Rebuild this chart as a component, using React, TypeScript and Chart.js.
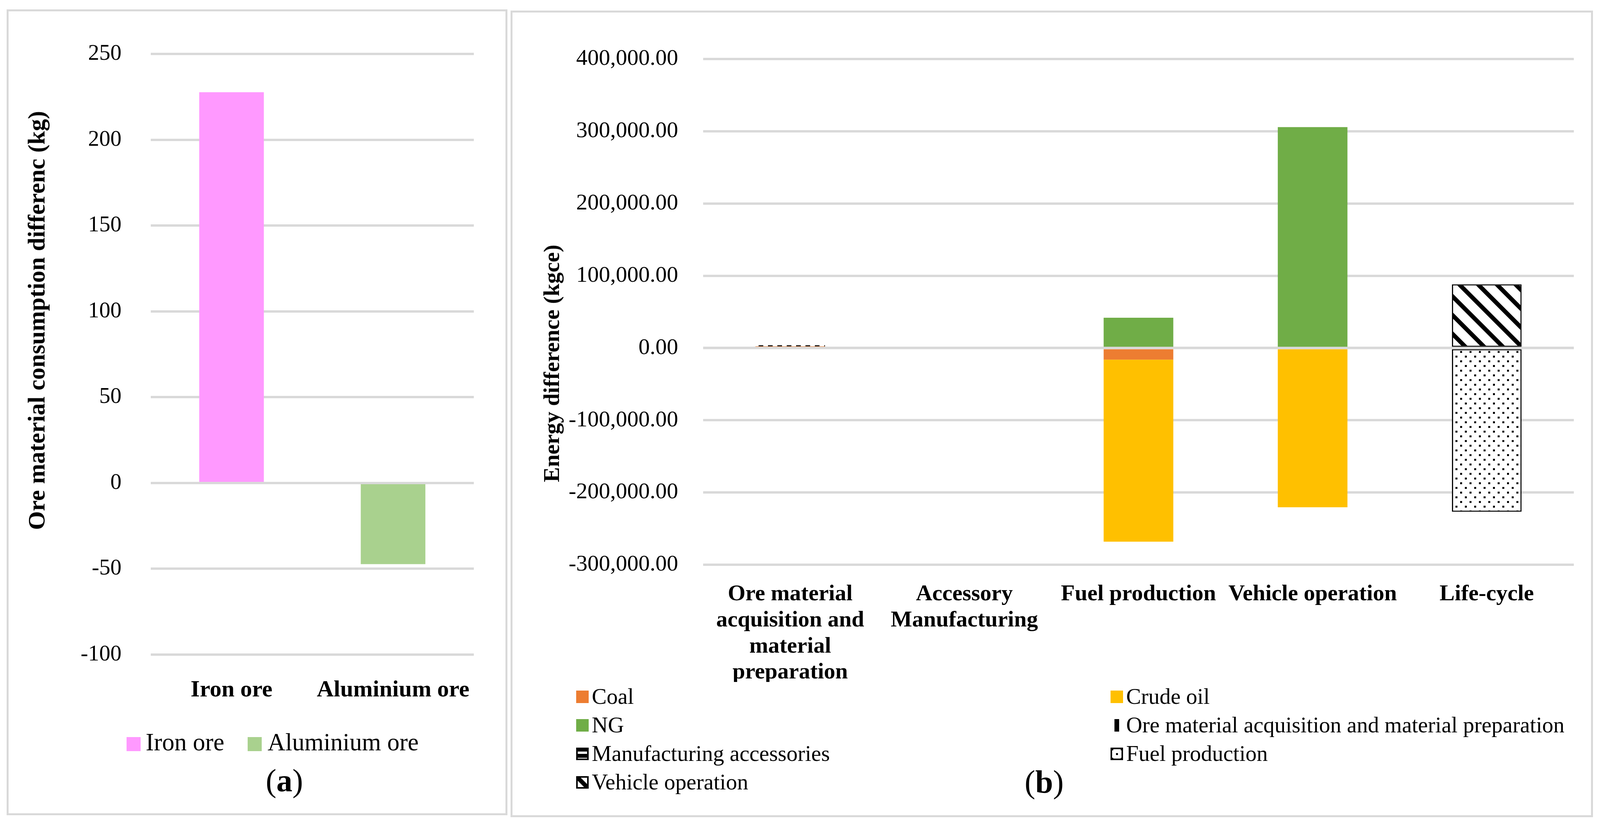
import React, { useEffect, useRef } from "react";
import { Chart, registerables } from "chart.js";

Chart.register(...registerables);

const FONT = "'Times New Roman', 'Liberation Serif', serif";

// ---------------- Panel (a) data ----------------
const oreCategories = ["Iron ore", "Aluminium ore"];
const ironOreValues = [227.7, null];
const aluminiumOreValues = [null, -47.3];
const oreColors = ["#FF99FF", "#A9D18E"];
const oreAxisMin = -100;
const oreAxisMax = 250;
const oreAxisStep = 50;
const oreAxisTitle = "Ore material consumption differenc (kg)";

// ---------------- Panel (b) data ----------------
const stageCategories = [
  ["Ore material", "acquisition and", "material", "preparation"],
  ["Accessory", "Manufacturing"],
  "Fuel production",
  "Vehicle operation",
  "Life-cycle",
];
const coalValues = [2200, null, -16100, null, null];
const crudeOilValues = [null, null, -252000, -220500, null];
const ngValues = [null, null, 41900, 305800, null];
const orePrepValues = [1600, null, null, null, null];
const manufacturingValues = [null, null, null, null, null];
const fuelProductionValues = [null, null, null, null, -226700];
const vehicleOperationValues = [null, null, null, null, 88100];
const energyAxisMin = -300000;
const energyAxisMax = 400000;
const energyAxisStep = 100000;
const energyAxisTitle = "Energy difference (kgce)";

const stageLabels = [
  "Coal",
  "Crude oil",
  "NG",
  "Ore material acquisition and material preparation",
  "Manufacturing accessories",
  "Fuel production",
  "Vehicle operation",
];
const stageData = [
  coalValues,
  crudeOilValues,
  ngValues,
  orePrepValues,
  manufacturingValues,
  fuelProductionValues,
  vehicleOperationValues,
];

// ---------------- layout scaling (design width 4321) ----------------
const DESIGN_W = 4321;
function getSx() {
  const w = typeof window !== "undefined" ? window.innerWidth : DESIGN_W;
  return Math.min(1, w / DESIGN_W);
}

// ---------------- patterns ----------------
type TileKind = "vstripe" | "hstripe" | "dots" | "diag";

function makeTile(kind: TileKind): HTMLCanvasElement {
  const c = document.createElement("canvas");
  let w = 24, h = 24;
  if (kind === "hstripe") { w = 16; h = 16; }
  if (kind === "diag") { w = 48; h = 48; }
  c.width = w; c.height = h;
  const ctx = c.getContext("2d")!;
  ctx.fillStyle = "#ffffff";
  ctx.fillRect(0, 0, w, h);
  ctx.fillStyle = "#000000";
  ctx.strokeStyle = "#000000";
  if (kind === "vstripe") ctx.fillRect(6, 0, 12, h);
  if (kind === "hstripe") ctx.fillRect(0, 0, w, 10);
  if (kind === "dots") {
    ctx.fillRect(2, 2, 5, 5);
    ctx.fillRect(14, 14, 5, 5);
  }
  if (kind === "diag") {
    ctx.lineWidth = 11;
    for (let k = -1; k <= 1; k++) {
      ctx.beginPath();
      ctx.moveTo(k * w - 10, -10);
      ctx.lineTo(k * w + w + 10, h + 10);
      ctx.stroke();
    }
  }
  return c;
}

type SeriesStyle = { color?: string; tile?: TileKind; border: number; swatchShift?: number };

const stageStyles: SeriesStyle[] = [
  { color: "#ED7D31", border: 0 },
  { color: "#FFC000", border: 0 },
  { color: "#70AD47", border: 0 },
  { tile: "vstripe", border: 0, swatchShift: 4 },
  { tile: "hstripe", border: 3 },
  { tile: "dots", border: 3 },
  { tile: "diag", border: 3 },
];

const zeroLinePlugin = {
  id: "zeroLine",
  afterDatasetsDraw(chart: any) {
    const y = chart.scales.y.getPixelForValue(0);
    const { left, right } = chart.chartArea;
    const ctx = chart.ctx;
    ctx.save();
    ctx.strokeStyle = "#d9d9d9";
    ctx.lineWidth = 6;
    ctx.beginPath();
    ctx.moveTo(left, y);
    ctx.lineTo(right, y);
    ctx.stroke();
    ctx.restore();
  },
};

// ---------------- helpers ----------------
function Txt(props: {
  x: number; baseline: number; size: number; bold?: boolean; center?: boolean; children: any;
}) {
  const { x, baseline, size, bold, center, children } = props;
  return (
    <div
      style={{
        position: "absolute",
        left: x,
        top: baseline - 0.8375 * size,
        fontFamily: FONT,
        fontSize: size,
        lineHeight: `${size}px`,
        fontWeight: bold ? "bold" : "normal",
        whiteSpace: "nowrap",
        color: "#000",
        transform: center ? "translateX(-50%)" : undefined,
      }}
    >
      {children}
    </div>
  );
}

function VTitle(props: { cx: number; cy: number; size: number; text: string }) {
  const { cx, cy, size, text } = props;
  return (
    <div
      style={{
        position: "absolute",
        left: cx,
        top: cy,
        fontFamily: FONT,
        fontSize: size,
        lineHeight: `${size}px`,
        fontWeight: "bold",
        whiteSpace: "nowrap",
        color: "#000",
        transform: "translate(-50%, -50%) rotate(-90deg)",
      }}
    >
      {text}
    </div>
  );
}

function Swatch(props: { style: SeriesStyle; left: number; top: number; size: number }) {
  const ref = useRef<HTMLCanvasElement>(null);
  const { style, left, top, size } = props;
  useEffect(() => {
    const c = ref.current!;
    const ctx = c.getContext("2d")!;
    ctx.clearRect(0, 0, size, size);
    if (style.tile) {
      const pat = ctx.createPattern(makeTile(style.tile), "repeat")!;
      if (style.swatchShift) pat.setTransform(new DOMMatrix().translate(style.swatchShift, 0));
      ctx.fillStyle = pat;
    } else {
      ctx.fillStyle = style.color!;
    }
    ctx.fillRect(0, 0, size, size);
    if (style.border > 0) {
      const b = 4;
      ctx.strokeStyle = "#000";
      ctx.lineWidth = b;
      ctx.strokeRect(b / 2, b / 2, size - b, size - b);
    }
  }, [style, size]);
  return (
    <canvas
      ref={ref}
      width={size}
      height={size}
      style={{ position: "absolute", left, top, width: size, height: size }}
    />
  );
}

// ---------------- Panel (a) chart ----------------
function OreChart(props: { sx: number }) {
  const { sx } = props;
  const ref = useRef<HTMLCanvasElement>(null);
  const w = Math.round(1342 * sx);
  useEffect(() => {
    const chart = new Chart(ref.current!, {
      type: "bar",
      data: {
        labels: oreCategories,
        datasets: [
          { label: oreCategories[0], data: ironOreValues as any, backgroundColor: oreColors[0], barPercentage: 0.4, categoryPercentage: 1 },
          { label: oreCategories[1], data: aluminiumOreValues as any, backgroundColor: oreColors[1], barPercentage: 0.4, categoryPercentage: 1 },
        ],
      },
      options: {
        animation: false,
        responsive: false,
        devicePixelRatio: 1,
        layout: { padding: { left: 0, top: 106, right: Math.round(85 * sx), bottom: 0 } },
        plugins: { legend: { display: false }, tooltip: { enabled: false } },
        scales: {
          x: {
            stacked: true,
            grid: { display: false },
            border: { display: false },
            ticks: {
              color: "#000",
              padding: 47,
              maxRotation: 0,
              autoSkip: false,
              font: { family: FONT, size: 60, weight: "bold", lineHeight: 1.2 },
            },
            afterFit: (s: any) => { s.height = 134; },
          },
          y: {
            stacked: true,
            min: oreAxisMin,
            max: oreAxisMax,
            ticks: { stepSize: oreAxisStep, color: "#000", padding: Math.round(79 * sx), font: { family: FONT, size: 57 } },
            grid: { color: "#d9d9d9", lineWidth: 6, drawTicks: false },
            border: { display: false },
            afterFit: (s: any) => { s.width = Math.round(384 * sx); },
          },
        },
      } as any,
      plugins: [zeroLinePlugin],
    });
    return () => chart.destroy();
  }, [sx]);
  return (
    <canvas
      ref={ref}
      width={w}
      height={1780}
      style={{ position: "absolute", left: Math.round(23 * sx), top: 29, width: w, height: 1780 }}
    />
  );
}

// ---------------- Panel (b) chart ----------------
function EnergyChart(props: { sx: number }) {
  const { sx } = props;
  const ref = useRef<HTMLCanvasElement>(null);
  const w = Math.round(2913 * sx);
  useEffect(() => {
    const canvas = ref.current!;
    const ctx = canvas.getContext("2d")!;
    const datasets = stageLabels.map((label, i) => {
      const st = stageStyles[i];
      const bg: any = st.tile ? ctx.createPattern(makeTile(st.tile), "repeat") : st.color;
      return {
        label,
        data: stageData[i] as any,
        backgroundColor: bg,
        borderColor: "#000000",
        borderWidth: st.border,
        borderSkipped: false,
        barPercentage: 0.4,
        categoryPercentage: 1,
      };
    });
    const chart = new Chart(canvas, {
      type: "bar",
      data: { labels: stageCategories as any, datasets },
      options: {
        animation: false,
        responsive: false,
        devicePixelRatio: 1,
        layout: { padding: { left: 0, top: 119, right: Math.round(46 * sx), bottom: 0 } },
        plugins: { legend: { display: false }, tooltip: { enabled: false } },
        scales: {
          x: {
            stacked: true,
            grid: { display: false },
            border: { display: false },
            ticks: {
              color: "#000",
              padding: 35,
              maxRotation: 0,
              autoSkip: false,
              font: { family: FONT, size: 58, weight: "bold", lineHeight: 1.15 },
            },
            afterFit: (s: any) => { s.height = 300; },
          },
          y: {
            stacked: true,
            min: energyAxisMin,
            max: energyAxisMax,
            ticks: {
              stepSize: energyAxisStep,
              color: "#000",
              padding: Math.round(67 * sx),
              font: { family: FONT, size: 58 },
              callback: (v: any) =>
                Number(v).toLocaleString("en-US", { minimumFractionDigits: 2, maximumFractionDigits: 2 }),
            },
            grid: { color: "#d9d9d9", lineWidth: 6, drawTicks: false },
            border: { display: false },
            afterFit: (s: any) => { s.width = Math.round(515 * sx); },
          },
        },
      } as any,
      plugins: [zeroLinePlugin],
    });
    return () => chart.destroy();
  }, [sx]);
  return (
    <canvas
      ref={ref}
      width={w}
      height={1713}
      style={{ position: "absolute", left: Math.round(1384 * sx), top: 32, width: w, height: 1713 }}
    />
  );
}

const panelBorder = "5px solid #d9d9d9";

export default function App() {
  const sx = getSx();
  const X = (v: number) => Math.round(v * sx);
  const oreLegendX = [342, 669];
  const oreLegendTextGap = [51, 54];
  const stageLegendCols = [1556, 2999];
  const stageLegendBaselines = [1801, 1874, 1947, 2020];
  return (
    <div
      style={{
        position: "absolute",
        left: 0,
        top: 0,
        width: X(DESIGN_W),
        height: 2111,
        background: "#ffffff",
        overflow: "hidden",
      }}
    >
      {/* Panel (a) */}
      <div
        style={{
          position: "absolute", left: X(18), top: 24, width: X(1370) - X(18), height: 2062,
          border: panelBorder, boxSizing: "border-box",
        }}
      />
      <OreChart sx={sx} />
      <VTitle cx={X(98)} cy={820} size={62} text={oreAxisTitle} />
      {oreCategories.map((name, i) => (
        <React.Fragment key={name}>
          <Swatch style={{ color: oreColors[i], border: 0 }} left={X(oreLegendX[i])} top={1886} size={36} />
          <Txt x={X(oreLegendX[i] + oreLegendTextGap[i])} baseline={1921} size={63}>{name}</Txt>
        </React.Fragment>
      ))}
      <Txt x={X(768)} baseline={2026} size={82} center>
        (<b>a</b>)
      </Txt>

      {/* Panel (b) */}
      <div
        style={{
          position: "absolute", left: X(1379), top: 27, width: X(4302) - X(1379), height: 2064,
          border: panelBorder, boxSizing: "border-box",
        }}
      />
      <EnergyChart sx={sx} />
      <VTitle cx={X(1490)} cy={930} size={58} text={energyAxisTitle} />
      {stageLabels.map((name, i) => {
        const col = i % 2;
        const row = Math.floor(i / 2);
        const x = X(stageLegendCols[col]);
        const base = stageLegendBaselines[row];
        return (
          <React.Fragment key={name}>
            <Swatch style={stageStyles[i]} left={x} top={base - 34} size={32} />
            <Txt x={x + 40} baseline={base} size={57}>{name}</Txt>
          </React.Fragment>
        );
      })}
      <Txt x={X(2820)} baseline={2029} size={82} center>
        (<b>b</b>)
      </Txt>
    </div>
  );
}
